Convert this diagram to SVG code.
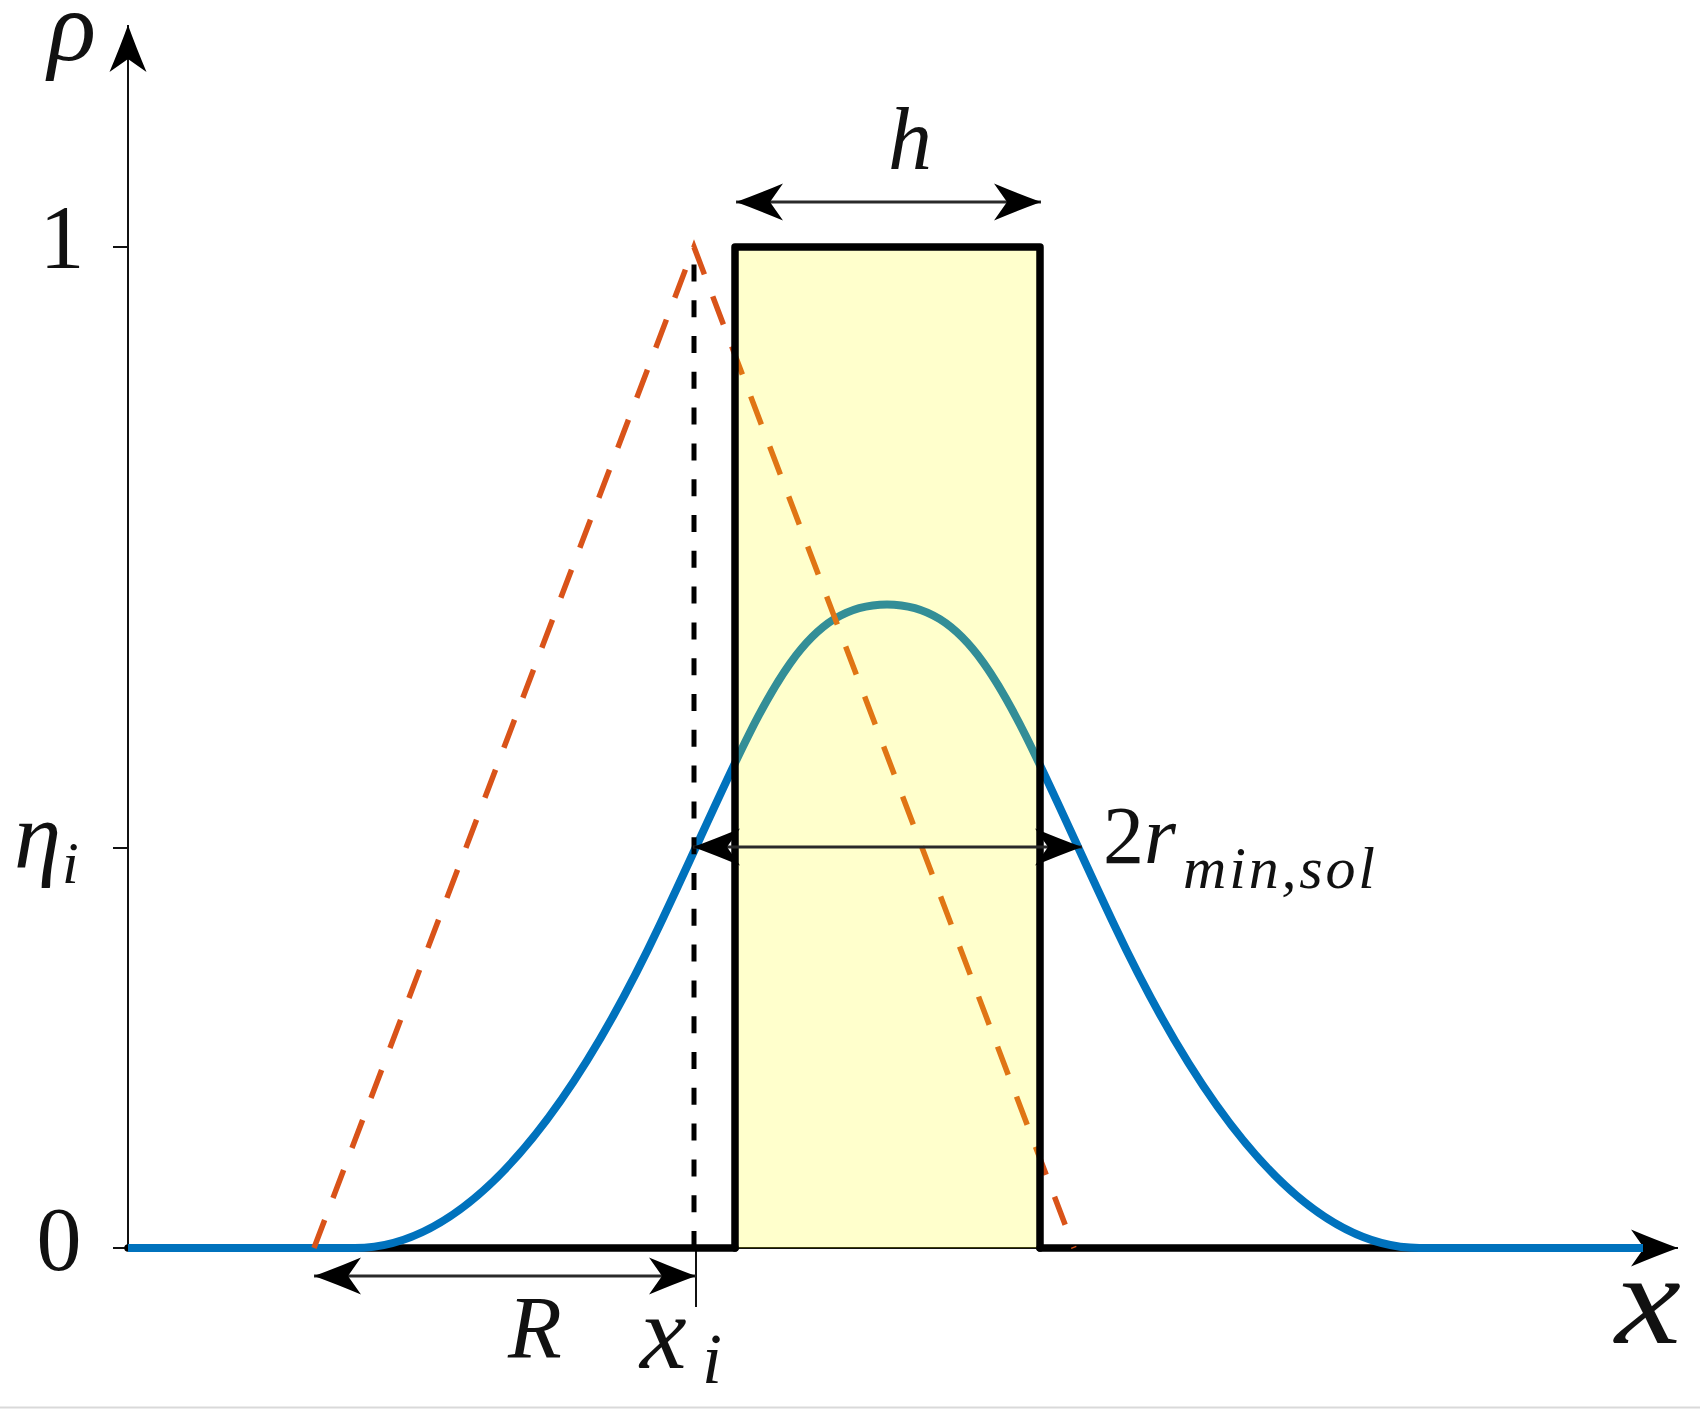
<svg xmlns="http://www.w3.org/2000/svg" width="1700" height="1410" viewBox="0 0 1700 1410">
  <style>
    .axis { stroke: #111; stroke-width: 2; fill: none; }
    .thick { stroke: #000; stroke-width: 7.5; fill: none; stroke-linejoin: round; stroke-linecap: round; }
    .curve { stroke: #0072bd; stroke-width: 8; fill: none; }
    .filter { stroke: #d95319; stroke-width: 5.5; fill: none; stroke-dasharray: 30 23.5; }
    .vdash { stroke: #000; stroke-width: 5; fill: none; stroke-dasharray: 17 18.8; }
    .dim { stroke: #2a2a2a; stroke-width: 2.8; fill: none; marker-start: url(#ah); marker-end: url(#ah); }
    .math { font-family: "Liberation Serif", "DejaVu Serif", serif; fill: #111; }
    .it { font-style: italic; }
  </style>
  <defs>
    <marker id="ah" viewBox="-48 -20 50 40" refX="0" refY="0" markerWidth="50" markerHeight="40" markerUnits="userSpaceOnUse" orient="auto-start-reverse">
      <path d="M0,0 Q-22,-8 -47,-18.5 L-34,0 L-47,18.5 Q-22,8 0,0 Z" fill="#000"/>
    </marker>
  </defs>
  <rect x="0" y="0" width="1700" height="1410" fill="#fff"/>
  <line x1="0" y1="1407.5" x2="1700" y2="1407.5" stroke="#d9d9d9" stroke-width="2"/>

  <g id="axes">
    <line class="axis" x1="128" y1="1248" x2="128" y2="25" marker-end="url(#ah)"/>
    <line class="axis" x1="128" y1="1248" x2="1678" y2="1248" marker-end="url(#ah)"/>
    <line class="axis" x1="113" y1="247" x2="128" y2="247"/>
    <line class="axis" x1="113" y1="848" x2="128" y2="848"/>
    <line class="axis" x1="113" y1="1248" x2="128" y2="1248"/>
    <line class="axis" x1="696" y1="1248" x2="696" y2="1307"/>
  </g>

  <g id="step-baseline">
    <path class="thick" d="M128,1248 H735 M1040,1248 H1643"/>
  </g>

  <g id="filtered-density">
    <path class="curve" d="M128,1248 H354.5 Q507,1248 659.5,925.56 C759.5,714.1 793,604.5 887,604.5 C981,604.5 1014.5,714.1 1114.5,925.56 Q1267,1248 1419.5,1248 H1643"/>
  </g>

  <g id="filter-kernel">
    <path class="filter" d="M314,1248 L694,247 L1074,1248"/>
  </g>

  <g id="xi-line">
    <line class="vdash" x1="694" y1="1248" x2="694" y2="262"/>
  </g>

  <g id="solid-member">
    <rect x="735" y="247" width="305" height="1001" fill="#ffff00" fill-opacity="0.2"/>
    <path class="thick" d="M735,1248 V247 H1040 V1248"/>
  </g>

  <g id="dimensions">
    <line class="dim" x1="736" y1="202" x2="1041" y2="202"/>
    <line class="dim" x1="693" y1="847" x2="1082" y2="847"/>
    <line class="dim" x1="314" y1="1276" x2="696" y2="1276"/>
  </g>

  <g id="labels" class="math">
    <text class="it" x="48" y="60" font-size="100">ρ</text>
    <text x="62" y="268" font-size="90" text-anchor="middle">1</text>
    <text x="59" y="1270" font-size="90" text-anchor="middle">0</text>
    <text class="it" x="14" y="868" font-size="95">η</text>
    <text class="it" x="62" y="883" font-size="60">i</text>
    <text class="it" x="888" y="169" font-size="88">h</text>
    <text x="1103" y="863" font-size="82">2<tspan font-style="italic">r</tspan></text>
    <text class="it" x="1183" y="888" font-size="60" textLength="192" lengthAdjust="spacing">min,sol</text>
    <text class="it" x="508" y="1357" font-size="88">R</text>
    <text class="it" x="640" y="1368" font-size="105">x</text>
    <text class="it" x="702" y="1383" font-size="72">i</text>
    <text class="it" x="1615" y="1343" font-size="130" textLength="66" lengthAdjust="spacingAndGlyphs">x</text>
  </g>
</svg>
